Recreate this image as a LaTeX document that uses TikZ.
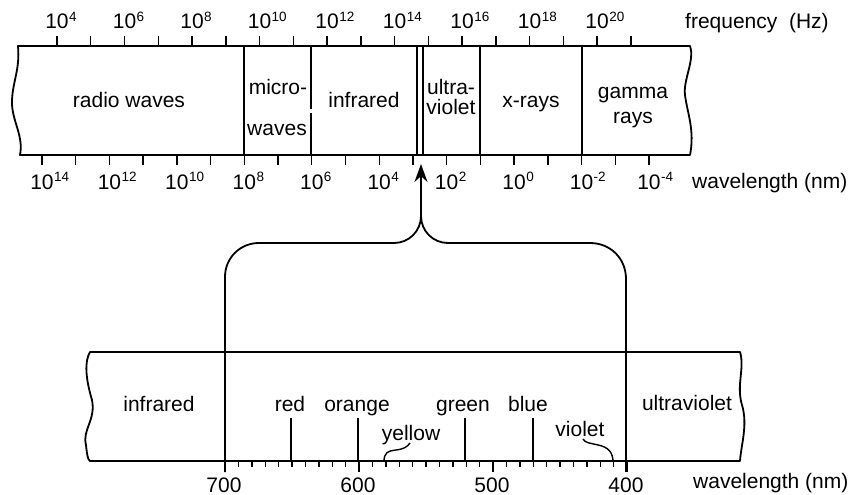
\documentclass[tikz,border=0pt]{standalone}
\usepackage{fontspec}
\setmainfont{Liberation Sans}
\usetikzlibrary{arrows.meta}
\newcommand\pwr[2]{#1\rlap{\kern0.5pt\raisebox{7.5pt}{\fontsize{13.5}{13.5}\selectfont #2}}}
\begin{document}
\begin{tikzpicture}[x=1pt,y=-1pt,
  lbl/.style={font=\fontsize{21}{21}\selectfont, inner sep=0pt, anchor=base},
  lblw/.style={lbl, anchor=base west},
  band/.style={line width=1.8pt, line join=round},
  thin/.style={line width=1.2pt},
  thick/.style={line width=2.2pt},
  tick/.style={line width=1.4pt},
  mk/.style={line width=1.4pt}]
\useasboundingbox (0,0) rectangle (849,495);

% ---------------- top band ----------------
\draw[band] (18,46) -- (690,46)
  .. controls (695,60) and (683,80) .. (685,95)
  .. controls (687,112) and (695,130) .. (690,155)
  -- (20,155)
  .. controls (24,135) and (11,120) .. (12,100)
  .. controls (13,80) and (20,70) .. (18,46) -- cycle;

% dividers
\draw[thin]  (244,46) -- (244,155);
\draw[band]  (311,46) -- (311,109) (311,113) -- (311,155);
\draw[thin]  (417,46) -- (417,155);
\draw[thick] (423,46) -- (423,155);
\draw[band]  (480,46) -- (480,155);
\draw[band]  (582,46) -- (582,155);

% frequency ticks and labels
\foreach \k in {0,...,17} \draw[tick] ({57+\k*33.76},46) -- ++(0,-10);
\foreach \e [count=\i from 0] in {4,6,...,20}
  \node[lbl] (f\e) at ({57+2*\i*33.76},29) {\pwr{10}{\e}};
\node[lblw] (flab) at (685,29) {frequency\ \ (Hz)};

% wavelength ticks and labels
\foreach \k in {0,...,18} \draw[tick] ({42+\k*33.72},155) -- ++(0,10);
\foreach \e [count=\i from 0] in {14,12,10,8,6,4,2,0,-2,-4}
  \node[lbl] (w\i) at ({42+2*\i*33.72},189) {\pwr{10}{\e}};
\node[lblw] (wlab) at (692,188) {wavelength (nm)};

% band labels
\node[lbl] (radio)  at (129,107) {radio waves};
\node[lbl] (micro)  at (278,95)  {micro-};
\node[lbl] (waves)  at (277,135) {waves};
\node[lbl] (ir)     at (364,107) {infrared};
\node[lbl] (ultra)  at (451,95)  {ultra-};
\node[lbl] (viol)   at (451,114) {violet};
\node[lbl] (xray)   at (531,107) {x-rays};
\node[lbl] (gamma)  at (633,99)  {gamma};
\node[lbl] (grays)  at (633,124) {rays};

% ---------------- arrow and brace ----------------
\coordinate (cusp) at (421,216);
\coordinate (tip)  at (421,164);
\draw[line width=1.6pt, -{Stealth[length=18pt,width=13pt]}] (cusp) -- (tip);
\draw[band] (225,472) -- (225,277)
  .. controls (225,258) and (240,243) .. (259,243) -- (394,243)
  .. controls (409,243) and (421,231) .. (cusp)
  .. controls (421,231) and (433,243) .. (448,243) -- (590,243)
  .. controls (610,243) and (626,258) .. (626,279);
\draw[thick] (626,279) -- (626,472);

% ---------------- lower band ----------------
\draw[band] (90,352) -- (740,352)
  .. controls (745,368) and (736,385) .. (742,405)
  .. controls (748,425) and (741,445) .. (740,461)
  -- (90,461)
  .. controls (88,460) and (87,455) .. (86,445)
  .. controls (82,430) and (96,420) .. (92,400)
  .. controls (86,380) and (84,362) .. (90,352) -- cycle;

% lower axis ticks
\foreach \k in {0,...,30} \draw[tick] ({225+\k*13.4},461) -- ++(0,6);
\foreach \k in {0,10,20,30} \draw[tick] ({225+\k*13.4},461) -- ++(0,11);

% colour markers
\draw[mk] (291,418) -- (291,461);
\draw[mk] (358,418) -- (358,461);
\draw[mk] (465,418) -- (465,461);
\draw[mk] (533,418) -- (533,461);
\draw[mk] (384,462) .. controls (384,452) and (388,451) .. (396,450)
  .. controls (404,449) and (407,447) .. (410,443);
\draw[mk] (613,462) .. controls (613,452) and (608,447) .. (598,445)
  .. controls (590,443) and (585,443) .. (583,439);

% lower labels
\node[lbl] (lir)    at (159,411) {infrared};
\node[lbl] (lred)   at (290,411) {red};
\node[lbl] (lor)    at (357,411) {orange};
\node[lbl] (lyel)   at (411,440) {yellow};
\node[lbl] (lgreen) at (463,411) {green};
\node[lbl] (lblue)  at (528,411) {blue};
\node[lbl] (lviol)  at (580,436) {violet};
\node[lbl] (luv)    at (687,410) {ultraviolet};

\node[lbl] (n700) at (224,492) {700};
\node[lbl] (n600) at (358,492) {600};
\node[lbl] (n500) at (492,492) {500};
\node[lbl] (n400) at (626,492) {400};
\node[lblw] (lwl) at (693,488) {wavelength (nm)};
\end{tikzpicture}
\end{document}
